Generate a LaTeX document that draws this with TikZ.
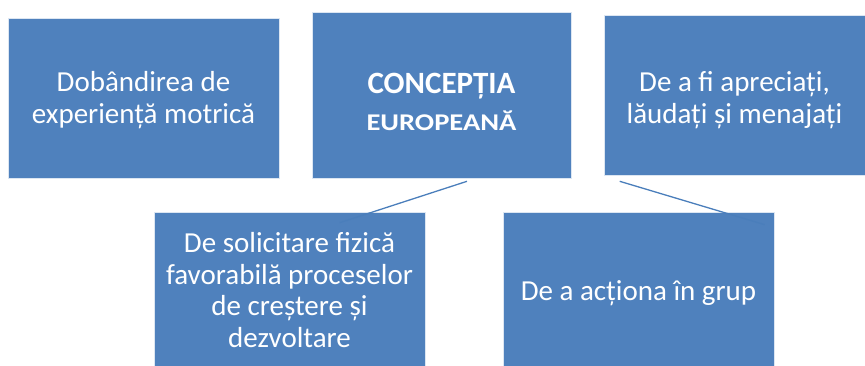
\documentclass[tikz,border=0pt]{standalone}
\usepackage{fontspec}
\usepackage{graphicx}
\setmainfont{Carlito}
\definecolor{boxblue}{HTML}{4F81BD}
\definecolor{lineblue}{HTML}{4A7EBB}
\tikzset{
  box/.style={rectangle, fill=boxblue, draw=white!80!boxblue, line width=0.6pt,
    text=white, align=center, inner sep=0pt,
    font=\fontsize{29}{31.5}\selectfont},
  boxtext/.style={text=white, align=center, inner sep=0pt,
    font=\fontsize{29}{31.5}\selectfont},
  conn/.style={draw=lineblue, line width=1.3pt}
}
\begin{document}
\begin{tikzpicture}[x=1pt,y=-1pt]
\useasboundingbox (0,0) rectangle (865,366);
\node[box, minimum width=271pt, minimum height=160pt] (b1) at (143.5,98) {};
\node[boxtext] (t1) at ([yshift=-2pt]b1.center) {Dobândirea de\\experiență motrică};
\node[box, minimum width=259pt, minimum height=166pt] (b2) at (441.5,95) {};
\node[boxtext, anchor=base, font=\fontsize{31}{37}\selectfont\bfseries] (t2a) at ([yshift=1pt]b2.center) {CONCEPȚIA};
\node[boxtext, anchor=base, font=\fontsize{24}{28}\selectfont\bfseries] (t2b) at ([yshift=-36pt]b2.center) {\scalebox{1.19}[1]{EUROPEANĂ}};
\node[box, minimum width=261pt, minimum height=160pt] (b3) at (734.5,95) {};
\node[boxtext] (t3) at ([yshift=-5pt]b3.center) {De a fi apreciați,\\lăudați și menajați};
\node[box, minimum width=271pt, minimum height=156pt] (b4) at (289.5,290) {De solicitare fizică\\favorabilă proceselor\\de creștere și\\dezvoltare};
\node[box, minimum width=271pt, minimum height=156pt] (b5) at (638.5,290) {};
\node[boxtext] (t5) at ([yshift=-3pt]b5.center) {De a acționa în grup};
\draw[conn] ([shift={(25.5,3)}]b2.south) -- ([shift={(186,11)}]b4.north west);
\draw[conn] ([shift={(16,6)}]b3.south west) -- ([shift={(262,13)}]b5.north west);
\end{tikzpicture}
\end{document}
